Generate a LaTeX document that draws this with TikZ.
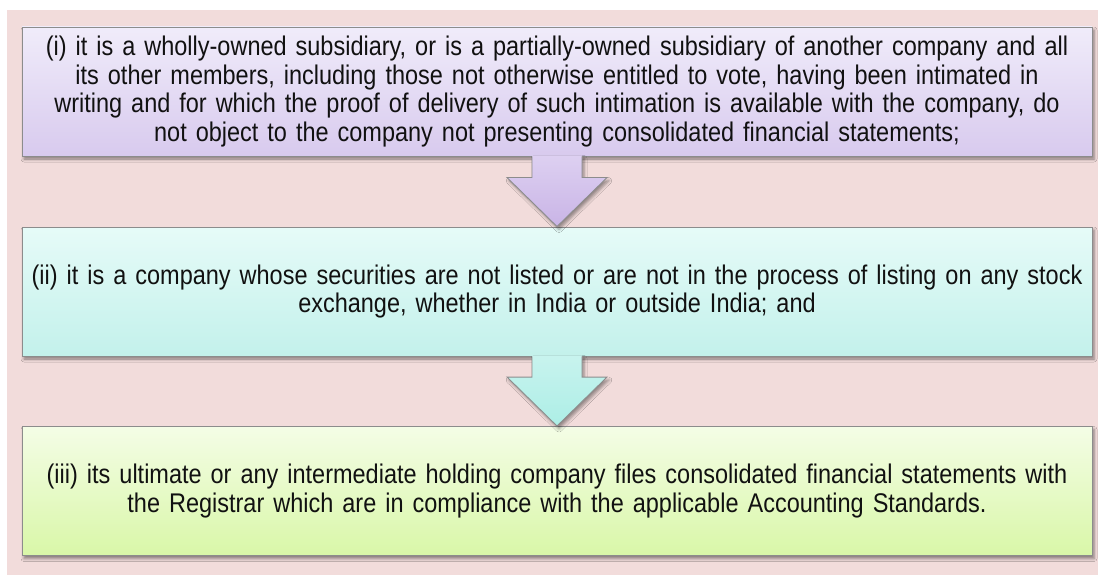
\documentclass[tikz,border=0pt]{standalone}
\usepackage{fontspec}
\setmainfont{Liberation Sans}[FakeStretch=0.87]
\usetikzlibrary{calc,shadows.blur}
\definecolor{bgpink}{HTML}{F2DCDB}
\definecolor{edge}{HTML}{8C8C8C}
\definecolor{txt}{HTML}{111111}
\definecolor{pTop}{HTML}{F0ECFA}
\definecolor{pBot}{HTML}{D8CAEE}
\definecolor{cTop}{HTML}{E6FBF8}
\definecolor{cBot}{HTML}{C3F1EB}
\definecolor{gTop}{HTML}{F4FDE6}
\definecolor{gBot}{HTML}{D9F7A8}
\definecolor{paTop}{HTML}{DDD0F1}
\definecolor{paBot}{HTML}{C9B4E6}
\definecolor{caTop}{HTML}{C8F3EE}
\definecolor{caBot}{HTML}{ACEEE6}
\tikzset{
  stepbox/.style={draw=edge, line width=0.9pt, minimum width=1070pt, minimum height=129pt,
    text width=1060pt, align=center, text=txt, inner sep=0pt,
    font=\fontsize{27}{28.5}\selectfont,
    blur shadow={shadow xshift=2pt, shadow yshift=-3pt, shadow blur radius=3pt, shadow opacity=45}},
  arrowshape/.style={blur shadow={shadow xshift=2pt, shadow yshift=-3pt, shadow blur radius=3pt, shadow opacity=40}},
  arrowedge/.style={draw=edge, line width=0.9pt, line join=miter}
}
\begin{document}
\begin{tikzpicture}[x=1pt,y=-1pt]
\useasboundingbox (0,0) rectangle (1098,575);
\fill[white] (0,0) rectangle (1098,575);
\fill[bgpink] (7,10) rectangle (1098,575);

\node[stepbox, top color=pTop, bottom color=pBot] (b1) at (557,91.5)
  {(i) it is a wholly-owned subsidiary, or is a partially-owned subsidiary of another company and all\\
   its other members, including those not otherwise entitled to vote, having been intimated in\\
   writing and for which the proof of delivery of such intimation is available with the company, do\\
   not object to the company not presenting consolidated financial statements;};

\node[stepbox, top color=cTop, bottom color=cBot] (b2) at (557,291.5)
  {(ii) it is a company whose securities are not listed or are not in the process of listing on any stock\\
   exchange, whether in India or outside India; and};

\node[stepbox, top color=gTop, bottom color=gBot] (b3) at (557,491)
  {(iii) its ultimate or any intermediate holding company files consolidated financial statements with\\
   the Registrar which are in compliance with the applicable Accounting Standards.};

% arrow 1
\path[arrowshape, top color=paTop, bottom color=paBot]
  ($(b1.south)+(-25,-1)$) -- ($(b2.north)+(-25,-49)$) -- ($(b2.north)+(-50,-49)$) -- (b2.north)
  -- ($(b2.north)+(50,-49)$) -- ($(b2.north)+(25,-49)$) -- ($(b1.south)+(25,-1)$) -- cycle;
\draw[arrowedge] ($(b1.south)+(-25,0)$) -- ($(b2.north)+(-25,-49)$) -- ($(b2.north)+(-50,-49)$) -- (b2.north)
  -- ($(b2.north)+(50,-49)$) -- ($(b2.north)+(25,-49)$) -- ($(b1.south)+(25,0)$);

% arrow 2
\path[arrowshape, top color=caTop, bottom color=caBot]
  ($(b2.south)+(-25,-1)$) -- ($(b3.north)+(-25,-49)$) -- ($(b3.north)+(-50,-49)$) -- (b3.north)
  -- ($(b3.north)+(50,-49)$) -- ($(b3.north)+(25,-49)$) -- ($(b2.south)+(25,-1)$) -- cycle;
\draw[arrowedge] ($(b2.south)+(-25,0)$) -- ($(b3.north)+(-25,-49)$) -- ($(b3.north)+(-50,-49)$) -- (b3.north)
  -- ($(b3.north)+(50,-49)$) -- ($(b3.north)+(25,-49)$) -- ($(b2.south)+(25,0)$);
\end{tikzpicture}
\end{document}
